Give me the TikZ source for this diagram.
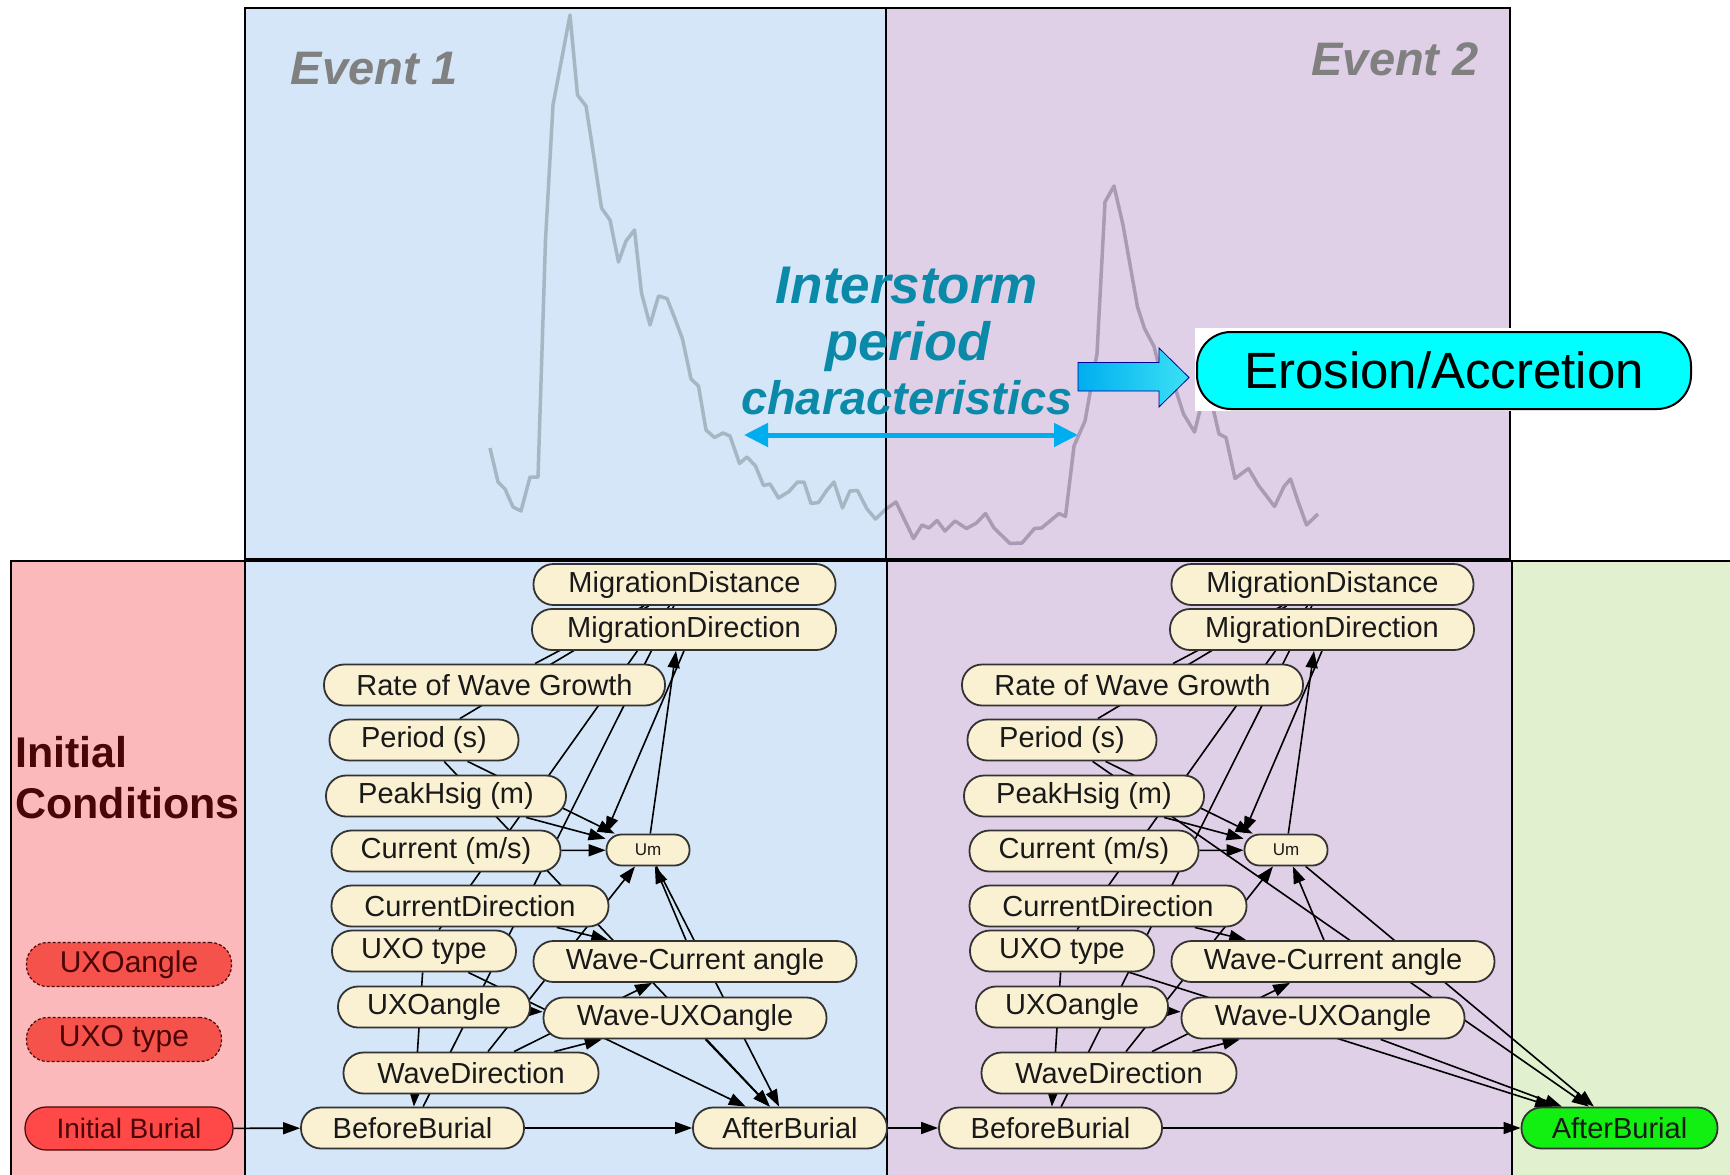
\documentclass[tikz,border=0pt]{standalone}
\usepackage{fontspec}
\setmainfont{Liberation Sans}
\usetikzlibrary{arrows.meta}

\definecolor{evblue}{HTML}{D4E6F7}
\definecolor{evpurple}{HTML}{DFD0E8}
\definecolor{icpink}{HTML}{FBB9BB}
\definecolor{abgreen}{HTML}{E1F1D0}
\definecolor{nodecream}{HTML}{FAF0D2}
\definecolor{stormteal}{HTML}{0A8AA8}
\definecolor{arrowblue}{HTML}{00AEEF}
\definecolor{erocyan}{RGB}{0,255,255}
\definecolor{headcyan}{RGB}{60,225,245}
\definecolor{curveblue}{HTML}{A6B7C4}
\definecolor{curvepurple}{HTML}{AA9BB4}
\definecolor{icred}{HTML}{F4524A}
\definecolor{icbright}{HTML}{FF4848}
\definecolor{icdark}{HTML}{4A0606}
\definecolor{afgreen}{HTML}{12F012}

\pgfdeclarelayer{panels}
\pgfdeclarelayer{links}
\pgfsetlayers{panels,links,main}

\begin{document}
\begin{tikzpicture}[
    x=1pt, y=-1pt,
    netnode/.style={rectangle, draw=black!80, line width=1.8pt, rounded corners=20pt, fill=nodecream, minimum height=41pt, inner sep=3pt, text=black!90, font=\fontsize{29}{30}\selectfont},
    umnode/.style={netnode, rounded corners=15pt, minimum height=31pt, font=\fontsize{17}{18}\selectfont},
    icnode/.style={rectangle, draw=icdark, densely dashed, line width=1.2pt, rounded corners=21pt, fill=icred, minimum height=44pt, text=icdark, font=\fontsize{30}{31}\selectfont},
    evlabel/.style={inner sep=0pt, text=black!50, font=\fontsize{47}{48}\selectfont\bfseries\itshape},
    storm/.style={inner sep=0pt, text=stormteal, font=\bfseries\itshape},
    link/.style={draw=black, line width=1.6pt, -{Triangle[length=17pt,width=12pt]}},
    hidden/.style={draw=black, line width=1.6pt},
    panel/.style={draw=black, line width=2.5pt}
    ]

    \useasboundingbox (0,0) rectangle (1730,1175);

    % panels and storm curve
    \begin{pgfonlayer}{panels}
    \fill[white] (0,0) rectangle (1730,1175);
    \fill[evblue] (245,8) rectangle (886,559);
    \fill[evpurple] (886,8) rectangle (1510,559);
    \fill[icpink] (11,561) rectangle (245,1175);
    \fill[evblue] (245,561) rectangle (887,1175);
    \fill[evpurple] (887,561) rectangle (1512,1175);
    \fill[abgreen] (1512,561) rectangle (1730,1175);

    \draw[curveblue, line width=3.5pt, line join=round] plot coordinates {
        (490,448) (498,482) (505,489) (513,507) (521,511) (530,477) (538,477)
        (545.5,240) (553,105) (570,15) (577.5,95) (586,106) (593,151) (601.5,208)
        (610,220) (618.5,262) (626,241) (634.5,230) (641.5,293) (650,325) (658.5,296)
        (667,298.5) (674.5,317.5) (682.5,339) (691,379) (698.5,386) (706,430)
        (714.5,437.5) (723,433) (730,436) (739.5,463.5) (747,457) (755.5,466)
        (763.5,485.5) (770,484) (778.5,498) (789,491.5) (797.5,482) (804,482)
        (811,503.5) (818.5,502.5) (827,490) (834,482) (842.5,508) (850,491)
        (857.5,490.5) (867,509) (875.5,519) (886,509)};
    \draw[curvepurple, line width=3.5pt, line join=round] plot coordinates {
        (886,509) (896,502) (913.5,538.5) (922,525) (929,528) (937,520.5) (945,531)
        (955,521) (966.5,528.5) (976.5,523) (985.5,513.5) (994,528) (1010,543.5)
        (1022,543) (1034.5,528.5) (1041.5,528) (1059,513.5) (1065.5,516.5)
        (1074,446) (1085,421) (1097,353.5) (1105,202) (1114,186) (1123,225)
        (1137.5,307) (1144.5,328.5) (1154,346.5) (1162,378.5) (1175.5,389)
        (1183.5,414) (1194.5,432) (1202.5,400) (1209.5,393) (1219,434) (1226,437.5)
        (1235,478.5) (1248.5,468.5) (1258.5,485.5) (1274.5,506.5) (1284,486.5)
        (1290.5,479) (1297.5,500) (1306.5,525) (1318,514)};

    \draw[panel] (245,8) rectangle (1510,559);
    \draw[black, line width=1.5pt] (886,8) -- (886,559);
    \draw[panel] (11,1175) -- (11,561) -- (1730,561);
    \draw[panel] (245,561) -- (245,1175);
    \draw[panel] (887,561) -- (887,1175);
    \draw[panel] (1512,561) -- (1512,1175);
    \end{pgfonlayer}

    % event titles and interstorm label
    \node[evlabel, anchor=base west] (ev1) at (290.5,84) {Event 1};
    \node[evlabel, anchor=base east] (ev2) at (1479,75.7) {Event 2};
    \node[storm, anchor=base, font=\fontsize{53}{54}\selectfont\bfseries\itshape] (storm1) at (907,303.6) {Interstorm};
    \node[storm, anchor=base, font=\fontsize{54}{55}\selectfont\bfseries\itshape] (storm2) at (908,360) {period};
    \node[storm, anchor=base, font=\fontsize{47}{48}\selectfont\bfseries\itshape] (storm3) at (907,414) {characteristics};
    \coordinate (gap-l) at (744,435);
    \coordinate (gap-r) at (1078,435);
    \draw[arrowblue, line width=5pt, {Triangle[length=24pt,width=23pt]}-{Triangle[length=24pt,width=23pt]}] (gap-l) -- (gap-r);

    % erosion box and block arrow
    \fill[white] (1195,328) rectangle (1676,411);
    \node[rectangle, draw=black, line width=2pt, rounded corners=34pt, fill=erocyan, minimum width=494pt, minimum height=77pt, font=\fontsize{51}{52}\selectfont] (erosion) at (1444,370.5) {Erosion/Accretion};
    \shadedraw[left color=arrowblue, right color=headcyan, draw=blue!60!black, line width=0.8pt]
        (1078,362.5) -- (1159,362.5) -- (1159,348) -- (1189,377.5) -- (1159,407) -- (1159,391) -- (1078,391) -- cycle;

    % initial conditions
    \node[anchor=north west, inner sep=0pt, align=left, text=icdark, font=\fontsize{43}{51}\selectfont\bfseries] (ic-title) at (15,736.5) {Initial\\Conditions};
    \node[icnode, minimum width=205pt] (ic-angle) at (129,964.5) {UXOangle};
    \node[icnode, minimum width=195pt] (ic-type) at (124,1039.5) {UXO type};
    \node[icnode, solid, fill=icbright, minimum width=208pt, minimum height=43pt, font=\fontsize{28}{29}\selectfont] (ic-burial) at (129,1128.5) {Initial Burial};

    % network nodes, event 1 (a) and event 2 (b)
    \foreach \e/\dx in {a/0, b/638} {
        \node[netnode, minimum width=302pt] (\e-md) at (684.5+\dx,584.5) {MigrationDistance};
        \node[netnode, minimum width=304pt] (\e-mdir) at (684+\dx,629.5) {MigrationDirection};
        \node[netnode, minimum width=341pt] (\e-rwg) at (494.5+\dx,685) {Rate of Wave Growth};
        \node[netnode, minimum width=189pt] (\e-per) at (424+\dx,740) {Period (s)};
        \node[netnode, minimum width=240pt] (\e-ph) at (446+\dx,796) {PeakHsig (m)};
        \node[netnode, minimum width=229pt] (\e-cur) at (446+\dx,851) {Current (m/s)};
        \node[umnode, minimum width=83pt] (\e-um) at (648+\dx,850) {Um};
        \node[netnode, minimum width=277pt] (\e-cd) at (470+\dx,906) {CurrentDirection};
        \node[netnode, minimum width=184pt] (\e-ut) at (424+\dx,951) {UXO type};
        \node[netnode, minimum width=323pt] (\e-wca) at (695+\dx,961.5) {Wave-Current angle};
        \node[netnode, minimum width=192pt] (\e-ua) at (434+\dx,1007) {UXOangle};
        \node[netnode, minimum width=283pt] (\e-wua) at (685+\dx,1018) {Wave-UXOangle};
        \node[netnode, minimum width=255pt] (\e-wd) at (471+\dx,1073) {WaveDirection};
        \node[netnode, minimum width=223pt] (\e-bb) at (412.5+\dx,1128) {BeforeBurial};
    }
    \node[netnode, minimum width=194pt] (a-ab) at (790,1128) {AfterBurial};
    \node[netnode, fill=afgreen, minimum width=196pt] (b-ab) at (1619.5,1128) {AfterBurial};

    % links (behind the nodes)
    \begin{pgfonlayer}{links}
    \foreach \e/\ab in {a/a-ab, b/b-ab} {
        \path[hidden] (\e-rwg) -- (\e-md);
        \path[hidden] (\e-per) -- (\e-md);
        \path[hidden] (\e-ut) -- (\e-md);
        \path[hidden] (\e-bb) -- (\e-md);
        \path[link] (\e-mdir.south) -- (\e-um.north west);
        \path[link] (\e-um) -- ([xshift=-8pt]\e-mdir.south);
        \path[link] (\e-per) -- (\e-um);
        \path[link] (\e-ph) -- (\e-um);
        \path[link] (\e-cur) -- (\e-um);
        \path[link] (\e-wd) -- (\e-um);
        \path[link] (\e-wca) -- (\e-um);
        \path[link] (\e-um) -- (\ab);
        \path[link] (\e-per) -- (\ab);
        \path[link] (\e-ut) -- (\ab);
        \path[link] (\e-wua) -- (\ab);
        \path[link] (\e-cd) -- (\e-wca);
        \path[link] (\e-wd) -- (\e-wca);
        \path[link] (\e-wd) -- (\e-wua);
        \path[link] (\e-ua) -- (\e-wua);
        \path[link] (\e-ut) -- (\e-bb);
        \path[link] (\e-bb) -- (\ab);
    }
    \path[link] (ic-burial) -- (a-bb);
    \path[link] (a-ab) -- (b-bb);
    \end{pgfonlayer}

\end{tikzpicture}
\end{document}
